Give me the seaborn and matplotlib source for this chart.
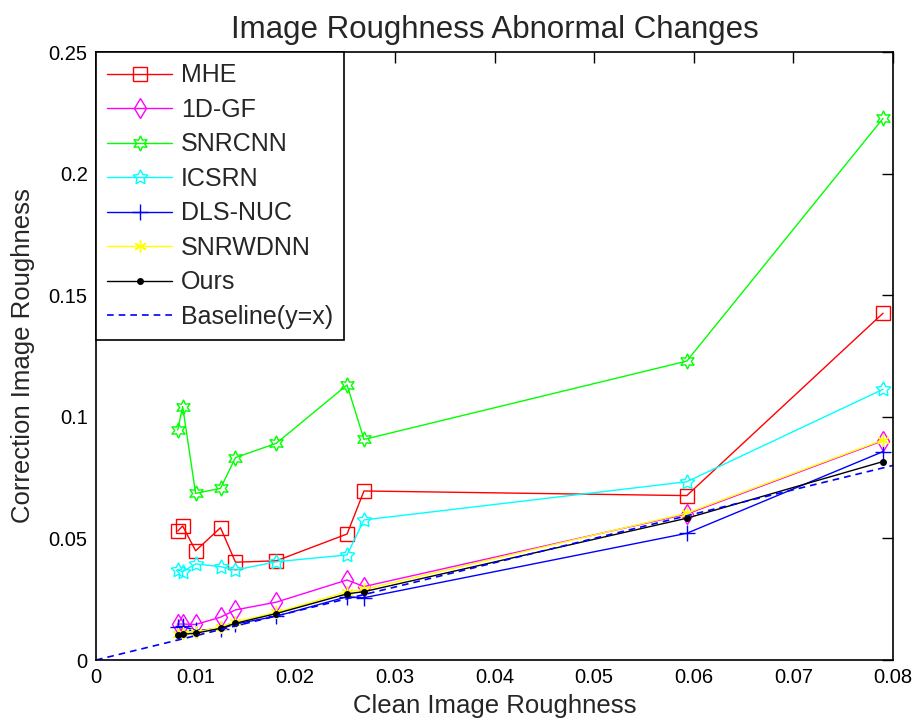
import matplotlib
matplotlib.use("Agg")
import matplotlib.pyplot as plt
import seaborn as sns
import pandas as pd

# Clean-image roughness values shared by every method
clean_roughness = [0.0082, 0.0087, 0.0100, 0.0125, 0.0140, 0.0181, 0.0252, 0.0269, 0.0593, 0.0790]

# Roughness after correction, one list per method
mhe = [0.0530, 0.0551, 0.0449, 0.0544, 0.0402, 0.0408, 0.0518, 0.0695, 0.0676, 0.1426]
gf_1d = [0.0148, 0.0148, 0.0146, 0.0176, 0.0206, 0.0238, 0.0329, 0.0302, 0.0600, 0.0902]
snrcnn = [0.0946, 0.1042, 0.0685, 0.0706, 0.0832, 0.0891, 0.1131, 0.0907, 0.1229, 0.2227]
icsrn = [0.0370, 0.0363, 0.0395, 0.0384, 0.0370, 0.0404, 0.0432, 0.0576, 0.0733, 0.1113]
dls_nuc = [0.0135, 0.0138, 0.0122, 0.0128, 0.0148, 0.0180, 0.0260, 0.0256, 0.0521, 0.0857]
snrwdnn = [0.0108, 0.0112, 0.0115, 0.0135, 0.0157, 0.0196, 0.0280, 0.0290, 0.0604, 0.0905]
ours = [0.0101, 0.0106, 0.0110, 0.0130, 0.0151, 0.0191, 0.0272, 0.0281, 0.0583, 0.0816]

# Reference line y = x
baseline_x = [0.0, 0.08]

method_names = ["MHE", "1D-GF", "SNRCNN", "ICSRN", "DLS-NUC", "SNRWDNN", "Ours"]
method_values = [mhe, gf_1d, snrcnn, icsrn, dls_nuc, snrwdnn, ours]

x_ticks = [0, 0.01, 0.02, 0.03, 0.04, 0.05, 0.06, 0.07, 0.08]
x_tick_labels = ["0", "0.01", "0.02", "0.03", "0.04", "0.05", "0.06", "0.07", "0.08"]
y_ticks = [0, 0.05, 0.1, 0.15, 0.2, 0.25]
y_tick_labels = ["0", "0.05", "0.1", "0.15", "0.2", "0.25"]

sns.set_style("white")
plt.rcParams["font.family"] = ["Liberation Sans", "DejaVu Sans"]

styles = {
    "MHE": dict(color="#ff0000", marker="s", ms=10, mfc="none"),
    "1D-GF": dict(color="#ff00ff", marker="d", ms=10, mfc="none"),
    "SNRCNN": dict(color="#00ff00", marker=(6, 1, 0), ms=11, mfc="none"),
    "ICSRN": dict(color="#00ffff", marker=(5, 1, 0), ms=11, mfc="none"),
    "DLS-NUC": dict(color="#0000ff", marker="+", ms=11, mfc="none"),
    "SNRWDNN": dict(color="#ffff00", marker=(6, 2, 0), ms=9, mfc="none"),
    "Ours": dict(color="#000000", marker=".", ms=8, mfc="#000000"),
}

fig = plt.figure(figsize=(9.15, 7.22), dpi=100)
ax = fig.add_axes([96 / 915, 1 - 660 / 722, (893 - 96) / 915, (660 - 52) / 722])

for name, values in zip(method_names, method_values):
    df = pd.DataFrame({"x": clean_roughness, "y": values})
    st = styles[name]
    sns.lineplot(
        data=df, x="x", y="y", ax=ax, estimator=None, sort=False,
        color=st["color"], marker=st["marker"], markersize=st["ms"],
        markerfacecolor=st["mfc"], markeredgecolor=st["color"],
        markeredgewidth=1.0, linewidth=1.0, label=name,
    )

base_df = pd.DataFrame({"x": baseline_x, "y": baseline_x})
sns.lineplot(data=base_df, x="x", y="y", ax=ax, estimator=None, color="#0000ff",
             linewidth=1.2, linestyle=(0, (4, 3)), label="Baseline(y=x)")

ax.set_xlim(0, 0.08)
ax.set_ylim(0, 0.25)
ax.set_xticks(x_ticks)
ax.set_xticklabels(x_tick_labels)
ax.set_yticks(y_ticks)
ax.set_yticklabels(y_tick_labels)
ax.tick_params(direction="in", length=8, width=1, top=True, right=True,
               labelsize=14.5, colors="black", pad=6)
for sp in ax.spines.values():
    sp.set_color("black")
    sp.set_linewidth(1.2)

ax.set_title("Image Roughness Abnormal Changes", fontsize=22.5, pad=10)
ax.set_xlabel("Clean Image Roughness", fontsize=18.5, labelpad=5)
ax.set_ylabel("Correction Image Roughness", fontsize=18.5, labelpad=10)

leg = ax.legend(loc="upper left", bbox_to_anchor=(0, 1), borderaxespad=0,
                fontsize=18, frameon=True, fancybox=False, framealpha=1,
                edgecolor="black", handlelength=2.6, handletextpad=0.35,
                labelspacing=0.42, borderpad=0.45)
leg.get_frame().set_linewidth(1.2)

fig.savefig("out.png", dpi=100)
